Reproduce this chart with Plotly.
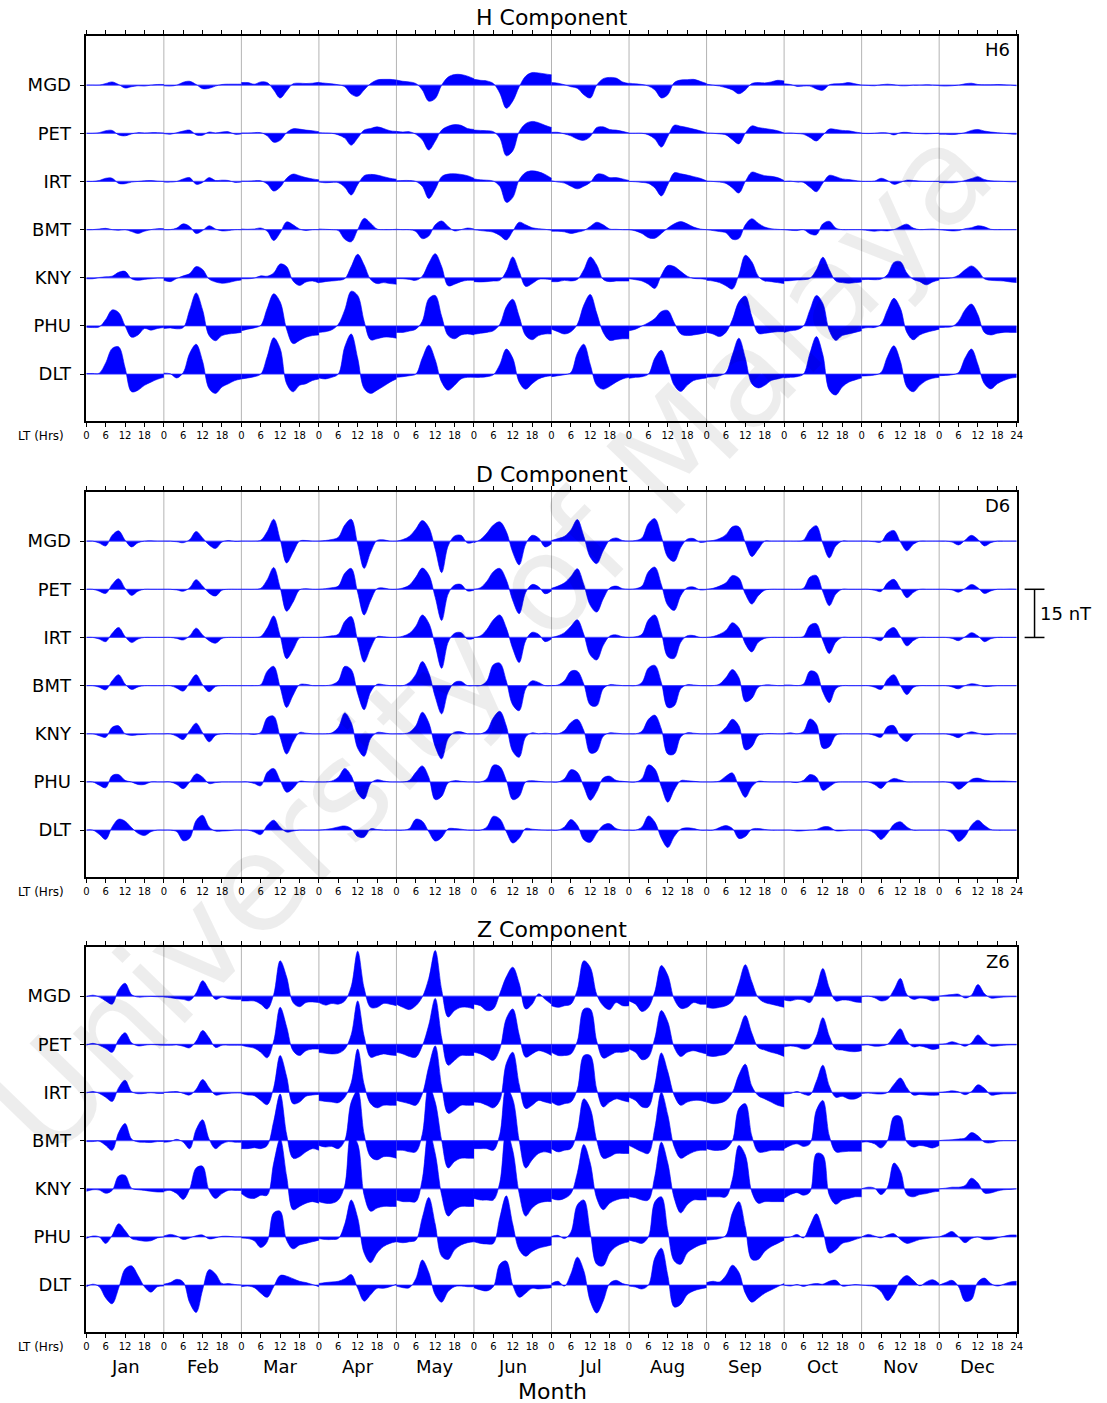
import plotly.graph_objects as go

# ---------------------------------------------------------------------------
# Monthly mean daily variation (nT) sampled every 2 h of local time
# (0, 2, ..., 24 LT), one row per month Jan..Dec, for each station.
# ---------------------------------------------------------------------------
STATIONS = ["MGD", "PET", "IRT", "BMT", "KNY", "PHU", "DLT"]
MONTHS = ["Jan", "Feb", "Mar", "Apr", "May", "Jun",
          "Jul", "Aug", "Sep", "Oct", "Nov", "Dec"]
HOURS = [0, 2, 4, 6, 8, 10, 12, 14, 16, 18, 20, 22, 24]
STATION_SPACING = 15  # nT between station baselines
SCALE_BAR = 15        # nT

# ----------------------------- H component ---------------------------------
H_MGD = [
    [0, 0, 0, 0.5, 1.0, 0.2, -0.9, -0.5, -0.2, -0.3, 0, 0.2, 0.2],
    [-0.2, -0.3, 0, 0.9, 1.2, 0.2, -1.1, -1.0, -0.3, 0.2, 0.3, 0.3, 0.3],
    [0.8, 0.8, 0.3, 1.0, 0.8, -1.5, -4.0, -1.8, 0.4, 0.6, 0.5, 0.6, 0.9],
    [0.8, 0.6, 0.4, 0.1, -0.5, -2.8, -3.5, -1.5, 0.5, 1.6, 1.8, 1.8, 1.6],
    [1.6, 1.2, 1.0, 0.5, -1.5, -5.0, -4.2, 0.0, 2.5, 3.3, 3.3, 2.8, 2.0],
    [1.8, 1.5, 1.3, 0.5, -2.5, -7.2, -5.0, -0.5, 2.8, 3.9, 3.8, 3.5, 3.2],
    [0.8, 0.6, 0.1, -0.5, -1.0, -3.0, -4.0, 0, 2.0, 2.4, 2.2, 1.0, 0.5],
    [0.6, 0.4, 0.2, -0.3, -1.5, -4.0, -3.0, 0.8, 1.6, 1.7, 1.8, 1.2, 0.5],
    [0.3, 0, -0.3, -0.8, -1.5, -2.7, -1.5, 0.5, 0.8, 0.7, 1.0, 1.5, 1.3],
    [0.4, 0.2, -0.4, -0.3, -0.3, -1.2, -1.6, 0.1, 0.4, 0.5, 0.8, 0.4, 0],
    [0, -0.1, -0.2, 0.1, 0.3, 0.1, -0.2, -0.2, 0, 0, 0.1, 0, -0.1],
    [-0.2, -0.3, -0.2, 0, 0.4, 0.6, 0.2, 0.1, 0.1, 0.2, 0.1, 0, -0.2],
]
H_PET = [
    [0, 0, 0.2, 0.8, 0.9, -0.5, -0.8, -0.2, 0.2, 0.1, 0.2, 0.2, 0.1],
    [-0.1, -0.3, 0.2, 0.7, 1.0, -0.5, -0.6, 0.4, 0.1, 0.4, 0.5, -0.3, -0.2],
    [0.1, 0.1, 0.2, 0.2, -0.8, -2.8, -2.2, 0.2, 1.4, 1.3, 1.0, 0.8, 0.5],
    [0.2, 0.1, 0, -0.5, -1.5, -3.7, -1.5, 1.0, 1.5, 2.0, 1.5, 0.8, 0.6],
    [0.6, 0.4, 0.5, -0.3, -2.0, -5.2, -2.5, 1.0, 2.2, 2.7, 2.5, 1.5, 1.2],
    [1.0, 0.9, 0.8, 0.5, -1.5, -7.0, -5.5, 0.5, 3.0, 3.7, 3.3, 2.5, 1.8],
    [0.3, 0.3, -0.2, -0.8, -1.8, -2.2, -1.0, 1.8, 2.0, 1.2, 1.0, 0.6, 0.1],
    [0, 0, 0, -0.5, -1.8, -4.3, -1.0, 2.5, 2.2, 1.8, 1.3, 0.8, 0.2],
    [0.1, 0, -0.2, -0.5, -2.0, -3.3, 0, 2.3, 1.8, 1.5, 1.2, 0.8, 0.1],
    [0, 0.1, -0.1, -0.3, -1.3, -2.4, -0.6, 1.3, 1.2, 0.9, 0.8, 0.4, 0.1],
    [0, -0.1, 0, 0.2, 0.1, -0.5, 0.2, 0.3, 0, -0.1, -0.2, -0.1, 0],
    [-0.3, -0.3, -0.4, -0.2, 0.2, 0.9, 1.2, 0.7, 0.4, 0.2, 0, -0.2, -0.3],
]
H_IRT = [
    [0, 0, 0.3, 1.0, 1.0, -0.6, -0.7, -0.2, 0, 0.2, 0.3, 0.1, 0],
    [-0.2, -0.2, 0, 0.8, 1.2, -0.9, -0.3, 1.2, 0.3, 0.4, 0.3, -0.3, -0.2],
    [0.1, 0.1, 0.2, 0.2, -0.8, -3.0, -1.8, 1.0, 2.3, 1.8, 1.2, 0.8, 0.5],
    [-0.2, -0.4, -0.3, -0.4, -1.8, -4.2, -1.0, 1.8, 2.2, 2.0, 1.5, 1.0, 0.7],
    [0.2, 0.3, 0.3, 0, -1.5, -5.3, -2.5, 1.5, 2.3, 2.4, 2.2, 1.8, 1.0],
    [0.8, 0.5, 0.4, 0.1, -1.5, -6.5, -5.0, 0.5, 2.8, 3.3, 3.0, 2.2, 1.0],
    [0.2, -0.2, -0.5, -1.5, -2.3, -1.5, -0.3, 2.2, 2.2, 1.2, 1.2, 0.8, 0.3],
    [0, -0.1, -0.3, -0.6, -2.0, -4.5, -1.0, 2.7, 2.4, 2.0, 1.5, 1.0, 0.2],
    [0.1, 0, -0.2, -0.6, -2.0, -3.6, 0, 2.9, 2.4, 1.8, 1.6, 1.2, 0.3],
    [0, 0.1, -0.2, -0.3, -1.8, -3.2, -0.5, 1.9, 1.5, 0.8, 0.6, 0.3, 0],
    [0, 0, 0.1, 1.0, 0.3, -0.9, -0.3, 0.4, 0.3, 0.1, 0, 0, 0],
    [-0.3, -0.4, -0.4, -0.2, 0.3, 0.9, 1.5, 0.6, 0.2, 0.1, 0, -0.1, -0.1],
]
H_BMT = [
    [0, 0, 0.2, 0.4, 0, -0.2, 0, -0.6, -1.2, -0.5, 0, 0.3, 0.3],
    [0, 0, 0.5, 1.8, 1.0, -1.2, -0.3, 1.2, 0.2, -0.4, -0.3, 0, 0],
    [0.2, 0.1, 0.2, 0.5, -0.5, -3.4, -1.0, 2.4, 1.5, 0.2, -0.3, 0, 0],
    [0.2, 0.1, 0, -0.3, -3.0, -3.8, 0, 3.5, 2.0, 0.2, 0, 0, 0.1],
    [0.1, 0, 0, -0.6, -2.8, -2.0, 1.5, 2.7, 1.0, -0.4, 0, 0.5, 0.2],
    [0, -0.3, -0.5, -0.8, -1.8, -3.2, -0.5, 2.3, 1.5, 0.6, 0.3, 0.1, -0.2],
    [-0.5, -0.5, -0.7, -1.2, -0.8, -0.3, 1.0, 2.3, 1.5, 0.2, 0.1, 0, 0],
    [0, -0.4, -1.2, -2.5, -2.7, -1.2, 0.5, 1.8, 2.5, 1.8, 0.8, 0.2, 0],
    [0, -0.3, -0.6, -1.0, -3.0, -2.8, 1.5, 3.4, 2.0, 0.8, 0.3, 0.1, 0],
    [0, -0.2, -0.3, 0, -1.3, -1.6, 1.8, 2.6, 0.5, 0, 0, 0, 0],
    [0, -0.3, -0.5, -0.3, -0.4, 0, 1.0, 1.7, 0.5, 0, 0.1, 0.2, 0],
    [0, -0.2, -0.4, -0.3, 0.3, 0.6, 1.2, 0.9, 0.1, 0, 0, 0, 0],
]
H_KNY = [
    [-0.3, -0.3, 0.1, 0.3, 0.5, 1.7, 2.0, -0.3, -0.8, -0.5, -0.3, -0.1, -0.1],
    [-0.8, -1.2, -0.2, 0.6, 1.3, 3.5, 2.6, -0.4, -1.3, -1.7, -1.5, -1.0, -0.7],
    [-0.3, -0.3, -0.1, 0.6, 0.5, 1.5, 4.3, 3.5, -1.0, -2.4, -1.3, -1.0, -1.6],
    [-1.5, -1.2, -1.0, -0.8, -0.3, 3.5, 7.3, 4.0, -0.5, -1.8, -1.5, -1.8, -2.0],
    [-0.3, -0.3, -0.5, -0.8, 0.5, 4.5, 7.5, 3.5, -2.5, -2.0, -1.2, -0.8, -0.8],
    [-1.2, -1.3, -1.2, -1.0, -0.8, 2.0, 6.5, 2.0, -2.7, -1.8, -0.5, -0.4, -0.6],
    [-1.2, -1.2, -0.8, -1.0, -0.5, 2.5, 6.5, 4.0, -0.5, -1.2, -1.0, -1.0, -1.0],
    [-0.3, -0.6, -1.0, -2.0, -3.3, 0.8, 3.8, 3.5, 2.0, 0.5, -0.2, -0.3, -0.5],
    [-0.8, -1.0, -1.5, -2.5, -3.5, 1.0, 7.0, 5.0, 0.5, -1.0, -1.2, -1.5, -1.8],
    [-1.0, -0.9, -0.7, -0.6, -0.2, 2.5, 6.4, 2.5, -1.0, -1.5, -1.7, -1.5, -1.3],
    [-0.6, -0.5, -0.6, -0.4, 1.0, 4.8, 5.0, 1.5, -0.5, -1.2, -2.2, -1.3, -0.7],
    [-0.3, -0.2, 0, 0.8, 2.5, 3.7, 2.3, -0.3, -0.8, -0.9, -1.0, -1.3, -1.5],
]
H_PHU = [
    [-0.4, -0.5, -0.3, 2.0, 5.0, 4.2, 0, -3.5, -2.8, -0.8, -1.3, -0.8, -0.5],
    [-0.8, -0.6, -0.9, -0.5, 5.0, 10.3, 5.0, -3.0, -4.6, -3.0, -2.5, -2.3, -2.0],
    [-1.5, -1.0, -0.6, 0.2, 5.5, 10.0, 7.5, -1.0, -5.5, -4.5, -3.5, -3.0, -2.8],
    [-2.0, -1.8, -1.2, 0.5, 5.0, 10.8, 9.5, 1.5, -4.3, -4.0, -3.5, -3.5, -3.8],
    [-2.0, -2.0, -1.6, -1.0, 1.5, 8.5, 9.5, 3.0, -3.0, -4.0, -2.8, -2.5, -2.8],
    [-2.6, -2.3, -2.0, -1.5, 0.5, 6.0, 8.3, 3.0, -3.0, -4.3, -3.0, -2.5, -2.5],
    [-1.0, -1.8, -2.5, -1.8, 0.5, 6.5, 9.8, 4.0, -2.0, -4.5, -4.2, -4.0, -4.0],
    [-1.5, -1.0, 0, 1.0, 2.3, 4.5, 4.8, 1.0, -2.5, -3.0, -2.8, -2.5, -2.0],
    [-2.0, -2.5, -3.3, -2.0, 2.0, 7.5, 9.3, 3.0, -2.3, -2.3, -2.0, -1.8, -1.8],
    [-2.0, -1.5, -1.2, 0, 5.0, 9.5, 7.0, -1.5, -4.5, -3.0, -2.5, -2.0, -1.5],
    [-0.8, -0.5, -0.5, 0.5, 5.0, 8.6, 5.5, -2.0, -4.3, -2.8, -2.0, -1.5, -1.0],
    [-0.5, -0.4, -0.2, 1.5, 5.0, 6.8, 3.5, -2.0, -2.8, -2.3, -2.0, -2.0, -2.0],
]
H_DLT = [
    [0.2, 0.2, 0.3, 3.5, 8.0, 8.5, 2.0, -5.5, -5.0, -3.5, -2.5, -1.6, -1.0],
    [0.3, 0.1, -1.2, 0.5, 6.5, 9.3, 4.0, -4.5, -6.0, -4.0, -3.0, -2.0, -1.5],
    [-1.5, -1.2, -0.8, 0, 5.5, 11.3, 8.0, -3.0, -5.5, -3.5, -3.0, -2.0, -1.5],
    [-1.2, -1.5, -1.0, 0, 8.5, 12.5, 5.0, -4.5, -6.0, -5.0, -3.8, -2.5, -1.5],
    [-1.0, -0.8, -0.5, 0, 5.0, 9.0, 4.5, -2.5, -5.0, -3.5, -1.5, -1.0, -1.0],
    [-1.0, -1.0, -0.8, -0.2, 3.0, 7.8, 5.0, -2.5, -4.7, -3.0, -1.5, -0.8, -0.5],
    [-0.8, -0.5, -0.2, 0.5, 6.5, 9.3, 3.0, -3.5, -4.7, -3.8, -2.5, -1.5, -1.0],
    [-1.3, -1.0, -0.8, 0, 5.0, 7.4, 2.5, -3.5, -5.4, -3.5, -2.0, -1.5, -1.2],
    [-1.0, -0.8, -0.5, 0.5, 6.0, 11.2, 5.0, -3.0, -4.3, -3.5, -2.0, -1.5, -1.0],
    [-1.2, -1.0, -0.8, 0, 6.5, 11.7, 6.0, -5.0, -6.5, -4.0, -2.5, -1.8, -1.2],
    [-0.6, -0.5, -0.3, 0.5, 5.5, 8.8, 4.0, -4.0, -5.5, -3.5, -2.0, -1.3, -1.0],
    [-0.5, -0.4, -0.2, 0.5, 5.0, 7.8, 3.0, -3.0, -4.6, -3.0, -2.0, -1.3, -1.0],
]

# ----------------------------- D component ---------------------------------
D_MGD = [
    [0, 0, -0.6, -1.5, 1.8, 3.2, 0.3, -1.8, -0.5, 0, 0.1, 0, 0],
    [0, 0, -0.2, -0.5, 0.5, 3.0, 1.0, -1.2, -2.3, -0.3, 0.2, -0.1, 0],
    [0, 0, 0, 0.3, 3.0, 6.8, 0.5, -6.8, -3.5, 0, 0.2, 0, 0],
    [0, 0.2, 0.5, 1.2, 5.0, 6.8, -1.0, -8.5, -3.5, 0.2, 0.4, 0, 0],
    [0, 0.5, 1.5, 3.8, 6.4, 4.3, -2.5, -9.8, -1.5, 1.6, 1.8, -0.6, -0.3],
    [-0.5, 0.5, 2.5, 5.0, 6.0, 3.0, -3.5, -7.4, -1.0, 1.8, 1.0, -1.8, -0.8],
    [0.2, 0.8, 1.5, 3.5, 6.7, 1.5, -5.0, -7.0, -3.0, 0.3, 1.0, 0.2, 0],
    [0, 0.2, 1.0, 5.5, 7.0, 1.5, -5.0, -6.3, -2.0, 0.6, 0.8, -0.4, -0.2],
    [0, 0.2, 0.8, 2.0, 4.5, 4.5, -0.5, -4.8, -2.5, 0, 0, 0, 0],
    [0, 0, 0, 0.3, 3.5, 4.8, -0.8, -5.2, -1.5, 0, 0, 0, 0],
    [0, 0, -0.2, -0.3, 2.5, 3.3, -0.3, -3.0, -1.0, 0, 0, 0, 0],
    [0, 0, -0.3, -1.2, 0.3, 1.8, 0.5, -1.5, -0.5, 0, 0, 0, 0],
]
D_PET = [
    [0, 0, -0.6, -1.3, 1.5, 3.3, 0.3, -1.9, -0.6, 0, 0, 0, 0],
    [0, 0, -0.2, -0.6, 0.5, 3.0, 1.0, -1.2, -2.1, -0.3, 0, 0, 0],
    [0, 0, 0, 0.3, 3.0, 6.8, 0.5, -6.8, -4.0, -0.2, 0.2, 0, 0],
    [0, 0.2, 0.5, 1.0, 5.0, 6.5, -1.0, -8.0, -3.5, 0.2, 0.4, 0, 0],
    [0, 0.4, 1.3, 3.8, 6.6, 4.5, -2.5, -9.7, -1.5, 1.3, 1.5, -0.5, -0.3],
    [0, 0.5, 2.5, 5.5, 6.5, 3.0, -3.5, -7.6, -1.0, 1.5, 0.8, -1.4, -0.5],
    [0.3, 1.0, 2.0, 4.0, 6.4, 1.5, -5.0, -7.1, -3.0, 0.4, 1.0, 0.2, 0],
    [0, 0.2, 1.0, 5.5, 6.9, 1.5, -5.0, -6.6, -2.0, 0.5, 0.7, -0.2, -0.1],
    [0, 0.3, 1.0, 2.0, 4.3, 3.5, -1.5, -4.6, -2.0, -0.3, 0, 0, 0],
    [0, 0, 0, 0.3, 3.8, 4.3, -0.8, -5.1, -1.5, 0, 0, 0, 0],
    [0, 0, -0.3, -0.7, 2.0, 3.1, 0.3, -2.6, -1.0, 0, 0, 0, 0],
    [0, 0, -0.2, -0.9, 0.2, 1.5, 0.5, -1.3, -0.5, 0, 0, 0.1, 0],
]
D_IRT = [
    [0, 0, -0.5, -1.3, 1.3, 3.1, 0.3, -1.6, -0.5, 0, 0, 0, 0],
    [0, 0, -0.3, -0.8, 0.5, 2.9, 0.8, -1.0, -1.8, -0.3, 0, 0, 0],
    [0, 0, 0, 0.3, 3.0, 6.7, 0.5, -6.6, -3.8, -0.2, 0, 0, 0],
    [0, 0.2, 0.5, 1.0, 5.0, 6.5, -1.0, -7.7, -3.3, 0.2, 0.2, 0, 0],
    [0, 0.4, 1.3, 3.5, 7.0, 4.5, -2.5, -9.6, -1.5, 1.3, 1.5, -0.5, -0.3],
    [0, 0.5, 2.5, 5.5, 7.0, 3.0, -3.5, -7.8, -1.0, 1.6, 1.0, -1.3, -0.5],
    [0, 0.5, 1.5, 3.5, 5.5, 1.0, -5.5, -7.0, -2.5, 0.4, 0.8, 0.2, 0],
    [0, 0.2, 1.0, 5.5, 7.0, 1.5, -6.0, -6.5, -1.5, 0.5, 0.6, 0, 0],
    [0, 0.3, 1.0, 2.2, 4.6, 3.0, -2.0, -4.5, -1.5, -0.3, 0, 0, 0],
    [0, 0, 0, 0.3, 3.8, 4.3, -1.0, -5.0, -1.5, 0, 0, 0, 0],
    [0, 0, -0.4, -1.0, 2.0, 3.1, 0.3, -2.6, -1.0, 0, 0, 0, 0],
    [0, 0, -0.3, -1.0, 0.2, 1.5, 0.5, -1.3, -0.4, 0, 0, 0, 0],
]
D_BMT = [
    [0, 0, -0.5, -1.3, 1.5, 3.4, 0.5, -1.2, -0.4, 0, 0, 0, 0],
    [0, 0, -0.8, -1.7, 1.0, 3.4, 0.3, -1.9, -0.3, 0, 0, 0, 0],
    [0, 0, 0, 0.3, 4.5, 6.0, -0.5, -6.8, -3.0, 0.3, 0.4, 0, 0],
    [0, 0, 0.3, 1.5, 6.0, 5.0, -2.5, -7.5, -2.0, 0.4, 0.3, 0, 0],
    [0, 0, 1.0, 3.5, 7.5, 4.0, -3.5, -8.8, -2.0, 1.0, 1.3, 0, 0],
    [0, 0, 1.5, 6.5, 7.0, 1.5, -6.0, -7.8, -1.0, 1.5, 1.0, 0, 0],
    [0, 0.2, 1.5, 4.5, 4.5, 0.5, -6.0, -6.3, -1.0, 0.3, 0.2, 0, 0],
    [0, 0, 1.0, 5.5, 6.3, 1.0, -6.8, -6.3, -1.0, 0.3, 0.2, 0, 0],
    [0, 0, 0.5, 2.5, 5.0, 2.5, -5.0, -4.0, -0.5, 0.2, 0.2, 0, 0],
    [0.2, 0.2, 0, 0.5, 4.5, 4.0, -2.0, -5.3, -1.0, 0, 0, 0, 0],
    [0, 0, -0.5, -1.2, 2.0, 3.4, 0, -2.8, -0.6, 0, 0, 0, 0],
    [0, 0, -0.4, -1.0, 0, 0.6, 0.3, -0.3, -0.2, 0, 0, 0, 0],
]
D_KNY = [
    [0, 0, -0.6, -1.1, 2.0, 2.5, 0, -0.5, -0.3, -0.2, 0, 0, 0],
    [0, 0, -0.8, -1.8, 1.0, 3.3, 0.3, -2.5, -0.5, 0, 0.1, 0, 0],
    [0, 0, -0.2, 0.5, 5.0, 5.5, -1.0, -6.3, -2.5, 0.4, 0.2, 0, 0],
    [0, 0, 0.3, 2.0, 6.5, 3.5, -4.5, -7.0, -1.5, 0.4, 0.3, 0, 0],
    [0, 0, 0.5, 2.5, 6.7, 3.5, -4.0, -7.8, -1.5, 0.5, 0.6, 0, 0],
    [0, 0, 1.0, 5.0, 7.0, 2.5, -5.5, -7.3, -1.0, 0.3, 0, 0.2, 0],
    [0, 0, 1.0, 3.5, 4.5, 1.0, -6.0, -5.5, -0.8, 0.3, 0.2, 0, 0],
    [0, 0, 0.8, 4.5, 5.8, 1.5, -6.3, -6.3, -1.0, 0.3, 0.2, 0, 0],
    [0, 0, 0.3, 2.0, 4.5, 2.5, -5.0, -4.0, -0.5, 0, 0.1, 0, 0],
    [0, 0.3, 0, 0.7, 4.6, 3.0, -4.5, -4.0, -0.5, 0, 0, 0, 0],
    [0, 0, -0.5, -1.1, 2.2, 2.5, -1.0, -2.4, -0.3, 0, 0, 0, 0],
    [0, 0, -0.5, -1.2, 0, 0.6, 0.2, -0.3, -0.2, 0, 0, 0, 0],
]
D_PHU = [
    [0, 0, -1.0, -1.8, 2.0, 2.3, 0.5, 0, -0.8, -0.8, 0, 0, 0],
    [0, 0, -0.8, -2.1, 0, 2.5, 1.5, -0.5, -0.2, 0, 0, 0, 0],
    [0, 0, -0.5, -1.2, 3.0, 4.2, 0.5, -3.2, -2.0, 0.2, 0.1, 0, 0],
    [0, 0, 0.3, 1.5, 4.2, 2.0, -3.5, -5.3, -0.5, 0.7, 0.3, 0, 0],
    [0, 0, 0.5, 3.0, 5.0, 1.5, -5.5, -4.5, -0.3, 0.4, 0.2, 0, 0],
    [0, 0, 1.0, 5.2, 4.8, 0.5, -5.5, -4.5, 0, 0.4, 0.2, 0, 0],
    [0, 0, 1.0, 3.8, 3.0, -1.5, -5.7, -3.0, 1.2, 1.8, 0.5, 0.2, 0],
    [0, 0, 1.0, 5.3, 4.0, -1.5, -6.3, -2.5, 0.4, 0.4, 0.2, 0, 0],
    [0, 0, 0.3, 1.8, 2.8, -1.5, -4.8, -1.5, 0.2, 0.1, 0, 0, 0],
    [0, 0, -0.2, 0.5, 2.3, 1.5, -2.6, -1.5, -0.2, 0, 0, 0, 0],
    [0, 0, -0.8, -2.0, 0, 1.1, 0.6, 0, 0, 0, 0, 0, 0],
    [0, 0, -0.5, -2.3, -1.0, 0.8, 1.2, 0.6, 0.3, 0.3, 0.3, 0.2, 0.1],
]
D_DLT = [
    [0, 0, -1.3, -2.9, 1.0, 3.4, 2.8, 0.8, -1.0, -1.7, -0.5, 0, 0],
    [0, 0, -0.5, -3.3, -2.5, 3.0, 4.6, 1.0, -0.3, -0.3, -0.2, 0, 0],
    [0, 0, -0.6, -1.4, 1.5, 3.1, 1.0, -0.6, -0.3, 0, 0, 0, 0],
    [0, 0.2, 0.5, 1.0, 1.3, 0.5, -2.0, -2.2, 0.4, 0.2, 0, 0, 0],
    [0, 0, 0.5, 3.4, 2.8, -0.5, -3.4, -2.3, 0.4, 0.5, 0.3, 0, 0],
    [0, 0, 1.0, 4.3, 3.5, -0.5, -4.0, -2.5, 0.5, 0.3, 0.1, 0, 0],
    [0, 0, 1.0, 3.3, 1.5, -3.0, -3.8, -1.0, 1.5, 2.0, 0.5, 0, 0],
    [0, 0, 1.0, 4.4, 2.5, -2.5, -5.4, -2.0, 0.3, 0.7, 0.5, 0, 0],
    [0, 0, 0.8, 1.4, 0.5, -2.6, -2.0, 0.3, 0.5, 0.2, 0, 0, 0],
    [0, 0, -0.3, -0.2, 0, 0.2, 1.0, 1.0, -0.2, -0.2, 0, 0, 0],
    [0, 0, -1.0, -2.9, -1.0, 1.8, 2.6, 1.0, 0, 0, 0, 0, 0],
    [0, 0, -1.0, -3.5, -2.0, 1.5, 3.1, 1.5, 0.2, 0, 0, 0, 0],
]

# ----------------------------- Z component ---------------------------------
Z_MGD = [
    [-0.2, 0.3, -0.3, -1.5, -2.5, 2.0, 4.0, 0.5, -0.3, -0.2, -0.1, -0.2, -0.2],
    [-0.3, -0.5, -0.8, -1.0, -1.4, 1.0, 4.8, 2.0, -1.0, -0.3, -0.8, -1.0, -1.0],
    [-1.5, -1.5, -1.5, -2.5, -4.0, 0.5, 11.0, 6.0, -2.0, -3.3, -2.0, -1.8, -2.0],
    [-2.0, -2.8, -2.3, -2.5, -1.5, 3.0, 14.0, 2.5, -3.5, -3.5, -2.3, -2.5, -3.0],
    [-2.5, -3.5, -4.2, -3.0, -0.3, 5.5, 14.2, 2.0, -6.5, -4.5, -3.5, -3.5, -4.0],
    [-2.5, -3.0, -4.5, -4.0, 0.8, 6.0, 9.0, 4.0, -4.0, -2.5, 0.7, -1.0, -2.5],
    [-3.0, -3.5, -3.0, -2.5, 2.0, 11.0, 9.0, 0.5, -3.0, -4.2, -2.0, -3.0, -3.0],
    [-1.5, -2.5, -4.8, -3.5, 1.5, 9.5, 6.5, -1.0, -3.8, -3.5, -2.0, -2.5, -2.5],
    [-3.5, -3.8, -3.5, -3.0, -1.5, 4.0, 9.8, 4.5, -0.5, -2.0, -2.5, -3.0, -3.5],
    [-1.2, -1.5, -1.0, -1.2, -2.0, 2.5, 8.6, 2.5, -1.5, -1.2, -1.3, -1.8, -2.0],
    [-0.2, 0, -0.5, -1.5, -1.0, 2.0, 5.5, 0.5, -1.0, -0.6, -0.8, -1.5, -1.2],
    [0, 0.3, 0.5, 0.6, -0.6, 0.3, 3.6, 0.8, -0.6, -0.5, -0.3, -0.2, -0.2],
]
Z_PET = [
    [-0.3, 0.3, -0.3, -1.3, -2.5, 1.5, 3.6, 0.5, -0.5, -0.3, -0.1, -0.2, -0.3],
    [-0.3, -0.3, -0.2, -0.6, -1.1, 1.0, 4.3, 2.0, -1.0, -0.3, -0.3, -0.3, -0.3],
    [-0.3, -0.8, -1.2, -2.5, -4.2, 1.0, 11.5, 5.5, -2.0, -3.5, -2.0, -1.5, -1.5],
    [-2.5, -2.8, -3.0, -2.8, -1.5, 3.0, 13.5, 2.5, -4.0, -3.5, -3.0, -3.3, -3.5],
    [-2.5, -3.0, -3.8, -4.0, -0.5, 6.0, 14.3, 2.0, -6.5, -5.0, -3.5, -3.5, -3.5],
    [-2.5, -3.0, -4.0, -5.0, -1.5, 8.0, 11.0, 3.0, -4.0, -3.0, -2.0, -2.5, -3.5],
    [-2.5, -3.5, -3.5, -3.0, 1.0, 11.0, 11.0, 1.0, -4.3, -3.5, -2.5, -2.5, -2.0],
    [-1.5, -2.5, -4.8, -4.0, 2.0, 10.5, 7.0, -1.0, -3.8, -2.5, -2.0, -2.5, -3.0],
    [-3.5, -3.8, -3.5, -3.0, -1.0, 4.0, 9.0, 3.5, -1.0, -1.8, -2.5, -3.0, -3.8],
    [-0.8, -0.5, -0.8, -1.5, -1.0, 2.5, 8.3, 2.5, -1.5, -1.8, -2.2, -2.3, -2.0],
    [-0.3, -0.2, -0.6, -0.5, 0, 2.5, 4.8, 1.0, -0.8, -0.5, -1.0, -1.6, -1.2],
    [0, 0.2, 0.8, 0.2, -0.6, 0.5, 2.9, 1.0, -0.5, -0.5, -0.3, -0.2, -0.2],
]
Z_IRT = [
    [-0.2, 0.3, -0.3, -1.5, -2.8, 1.5, 3.8, 0.3, -0.4, -0.3, -0.1, -0.3, -0.3],
    [0, 0.2, 0.3, -0.3, -0.8, 1.0, 4.0, 1.5, -0.8, -0.5, -0.3, -0.2, -0.2],
    [-0.3, -0.8, -1.0, -2.5, -3.8, 1.5, 11.5, 5.0, -3.5, -3.0, -1.2, -0.8, -0.6],
    [-2.5, -2.8, -3.0, -3.2, -1.5, 3.0, 13.5, 2.5, -3.5, -4.8, -4.0, -4.0, -4.0],
    [-2.5, -3.0, -3.5, -4.0, -0.5, 8.0, 14.5, 2.0, -6.5, -5.5, -4.0, -4.0, -4.0],
    [-3.0, -3.2, -4.0, -4.8, -2.5, 9.0, 12.5, 2.5, -5.0, -4.0, -2.5, -3.0, -3.5],
    [-3.0, -4.0, -3.5, -3.0, 1.0, 11.5, 11.5, 1.0, -4.5, -3.0, -2.0, -2.5, -3.0],
    [-1.5, -2.5, -4.5, -4.5, 2.5, 12.3, 6.5, -1.0, -4.0, -3.0, -2.5, -2.5, -3.0],
    [-3.0, -3.5, -3.3, -2.5, 0, 5.5, 8.8, 2.0, -1.0, -2.0, -3.0, -4.0, -4.5],
    [-0.5, -0.3, 0.3, -0.5, -0.8, 3.5, 8.5, 2.0, -1.5, -1.2, -2.0, -2.0, -1.0],
    [-0.3, -0.2, -0.4, -0.5, 0, 2.5, 4.5, 1.5, -0.8, -0.6, -0.8, -0.9, -0.8],
    [0, 0.2, 0.5, 0.2, -0.7, 0.3, 2.4, 1.3, -0.8, -0.6, -0.4, -0.4, -0.3],
]
Z_BMT = [
    [-0.3, -0.3, -0.2, -1.5, -3.0, 2.5, 5.3, 0.5, -0.4, -0.5, -0.6, -0.3, -0.3],
    [-0.5, -0.3, 0.4, -0.5, -2.5, 3.5, 6.5, 0.5, -2.5, -1.0, -0.3, -0.5, -0.5],
    [-2.5, -2.5, -2.2, -2.5, -1.5, 6.0, 14.5, 2.0, -5.5, -5.0, -3.5, -2.5, -3.0],
    [-1.5, -2.0, -1.8, -2.5, 0, 12.0, 15.5, 2.0, -5.0, -6.0, -5.0, -5.0, -5.5],
    [-3.0, -3.0, -3.5, -3.5, 2.0, 17.0, 12.0, 0, -8.5, -6.5, -5.5, -5.5, -5.5],
    [-2.5, -2.5, -2.5, -3.0, 2.0, 16.5, 13.0, 0, -8.5, -6.0, -4.0, -3.5, -4.0],
    [-2.5, -3.5, -3.0, -2.5, 3.0, 13.0, 10.0, 0, -5.5, -5.0, -4.0, -4.0, -4.0],
    [-1.5, -2.5, -3.5, -4.0, 4.0, 15.0, 8.0, -2.0, -5.5, -4.5, -3.5, -3.0, -3.0],
    [-2.5, -3.0, -3.0, -2.5, 0, 10.0, 11.5, 1.5, -3.5, -3.5, -3.0, -3.0, -3.0],
    [-2.5, -1.5, -1.0, -1.8, -1.0, 9.5, 12.5, 1.5, -3.5, -3.5, -3.3, -3.3, -3.3],
    [-0.5, -0.4, -1.0, -2.3, 0, 7.5, 7.5, -0.5, -2.0, -1.5, -1.8, -2.3, -1.5],
    [0, 0.2, 0.3, 0.5, 0.8, 2.5, 1.5, -0.5, -0.7, -0.2, 0, 0, 0],
]
Z_KNY = [
    [-0.8, -0.3, -0.4, -1.4, -0.5, 4.0, 4.2, 0.2, -0.3, -0.5, -0.8, -1.0, -1.0],
    [-0.8, -0.5, -1.5, -3.3, 0, 6.5, 7.0, -0.5, -3.0, -1.5, -0.5, -0.5, -0.5],
    [-1.5, -2.8, -3.0, -2.0, -2.0, 8.0, 15.5, 4.0, -6.5, -5.5, -4.5, -4.0, -4.5],
    [-4.0, -4.5, -4.5, -3.5, 1.0, 17.0, 14.0, -2.0, -7.0, -6.0, -5.5, -5.5, -5.5],
    [-3.5, -4.0, -4.0, -4.0, 3.0, 18.0, 11.0, -2.0, -8.5, -6.5, -5.5, -5.5, -5.5],
    [-3.0, -3.5, -3.5, -3.5, 2.0, 18.0, 12.0, -1.5, -8.5, -6.0, -4.5, -4.0, -4.0],
    [-3.0, -3.5, -3.0, -1.5, 5.0, 13.8, 8.0, -3.0, -6.5, -4.5, -3.5, -3.0, -3.0],
    [-2.5, -2.8, -3.5, -3.5, 4.0, 14.5, 8.0, -3.0, -7.5, -5.0, -3.5, -3.5, -3.5],
    [-2.5, -2.5, -2.5, -2.5, 3.0, 13.5, 10.5, -1.0, -4.5, -4.0, -4.0, -4.0, -4.0],
    [-3.0, -1.8, -1.2, -2.0, -1.0, 11.0, 10.5, -2.0, -4.8, -3.5, -3.0, -2.5, -2.5],
    [0, 0.5, 0.2, -1.8, 0.5, 8.0, 5.5, -1.8, -2.5, -1.8, -1.5, -1.0, -0.8],
    [0, 0.2, 0.5, 0.5, 1.0, 3.3, 1.8, -1.3, -1.3, -0.7, -0.3, -0.2, 0],
]
Z_PHU = [
    [-0.5, 0.3, 0, -2.0, 0.5, 4.1, 2.0, -0.5, -1.0, -1.3, -1.2, -0.3, 0],
    [0.3, 0.8, 0.3, -0.8, -0.3, 0.4, 0.6, -0.6, -0.3, 0.2, 0.2, 0, 0],
    [-0.3, -0.5, -1.2, -3.3, -1.5, 7.5, 8.0, -1.0, -3.7, -2.5, -2.0, -1.5, -1.0],
    [-0.5, -0.8, -0.8, -0.5, 4.0, 11.5, 6.0, -5.0, -8.0, -5.0, -3.0, -2.0, -1.5],
    [-1.5, -1.8, -1.5, -1.0, 6.0, 12.3, 4.0, -6.0, -7.0, -4.0, -2.5, -1.8, -1.5],
    [-1.5, -2.0, -2.2, -2.0, 6.0, 12.8, 4.0, -4.0, -6.0, -4.5, -3.5, -3.0, -2.5],
    [0.2, 0.5, -0.5, 1.5, 10.0, 11.5, 1.5, -8.5, -9.0, -5.0, -3.0, -2.0, -1.5],
    [-1.0, -1.5, -2.0, 0, 11.0, 12.5, 2.0, -7.5, -8.5, -5.0, -3.5, -2.5, -2.0],
    [-1.0, -0.8, -0.5, 0.5, 7.5, 11.0, 3.0, -7.0, -7.0, -4.5, -3.0, -2.0, -1.0],
    [-0.3, 0, 0.8, -0.3, 3.5, 7.2, 2.0, -5.0, -4.0, -2.0, -1.5, -0.8, -0.2],
    [0, 0.8, 0.3, -0.3, 0.6, 1.0, -0.8, -2.0, -1.5, -0.8, -0.5, -0.2, 0],
    [0, 0.8, 1.7, 0, -1.8, -0.5, 0, -0.8, -0.8, -0.3, 0.2, 0.6, 0.6],
]
Z_DLT = [
    [-0.5, 0.3, -0.5, -4.0, -5.8, -1.0, 5.0, 6.0, 3.0, -0.5, -2.2, -0.5, -0.3],
    [0.3, 0.8, 1.8, 1.0, -5.5, -8.5, -1.5, 4.8, 3.5, 0.5, 0.5, 0.2, 0],
    [-0.5, -0.3, -0.8, -2.5, -3.8, -0.5, 3.0, 2.8, 2.0, 1.2, 0.8, 0.2, -0.5],
    [0.5, 0.8, 1.0, 1.2, 2.0, 3.3, -1.0, -5.0, -3.0, -1.0, -1.0, -0.5, 0.3],
    [-0.3, -0.8, -0.8, 2.0, 7.8, 4.0, -3.0, -5.3, -2.0, -0.5, -0.3, -0.5, -0.5],
    [-0.8, -1.5, -1.8, -0.5, 6.5, 7.5, 0, -3.8, -2.5, -1.0, -1.2, -1.0, -0.8],
    [0.5, 1.2, -0.3, 3.5, 8.7, 4.5, -5.0, -8.7, -5.0, 0.5, 1.5, 0.5, 0],
    [-0.3, -0.6, -1.2, 0, 8.5, 11.5, 3.0, -6.8, -6.0, -3.0, -1.8, -1.2, -0.8],
    [0.8, 1.2, 1.0, 3.0, 6.2, 4.0, -2.5, -5.3, -4.0, -2.5, -1.5, -0.5, 0.5],
    [0, -0.3, 0.2, -0.4, 0.2, 0.5, 0.3, 1.2, 1.5, -0.3, -0.1, 0.2, 0],
    [0, -0.2, -0.5, -2.0, -4.8, -2.5, 1.5, 3.0, 1.5, -0.2, 1.0, 1.7, 0.5],
    [0, 0.8, 1.5, -0.5, -5.0, -4.5, 1.0, 2.2, 0.5, -0.3, 0.3, 1.0, 1.2],
]

COMPONENTS = [
    ("H Component", "H6", [H_MGD, H_PET, H_IRT, H_BMT, H_KNY, H_PHU, H_DLT]),
    ("D Component", "D6", [D_MGD, D_PET, D_IRT, D_BMT, D_KNY, D_PHU, D_DLT]),
    ("Z Component", "Z6", [Z_MGD, Z_PET, Z_IRT, Z_BMT, Z_KNY, Z_PHU, Z_DLT]),
]

# ---------------------------------------------------------------------------
W, H = 1107, 1403
FONT = "DejaVu Sans"
FILL = "#0000ff"
BASE = "rgba(40,40,255,0.65)"
PLOT_LEFT, PLOT_RIGHT = 84, 1022
PANELS = [(36, 421), (492, 877), (947, 1332)]  # top, bottom in pixels
Y_RANGE = [-104.6, 15.3]


def fx(px):
    return px / W


def fy(px):
    return 1 - px / H


def label(text, x, y, size, xref="paper", yref="paper", xanchor="center", **kw):
    return dict(text=text, xref=xref, yref=yref, x=x, y=y, showarrow=False,
                xanchor=xanchor, yanchor="middle",
                font=dict(family=FONT, size=size, color=kw.pop("color", "black")),
                **kw)


n_days = 24 * len(MONTHS)
hour_ticks = list(range(0, n_days + 1, 6))
hour_text = [str(t % 24) if t < n_days else "24" for t in hour_ticks]
offsets = [-STATION_SPACING * i for i in range(len(STATIONS))]

fig = go.Figure()
shapes = []
annotations = []

for p, (title, tag, series) in enumerate(COMPONENTS):
    sfx = "" if p == 0 else str(p + 1)
    xa, ya = "x" + sfx, "y" + sfx
    top, bottom = PANELS[p]

    for s, data in enumerate(series):
        off = offsets[s]
        for m, vals in enumerate(data):
            x0 = 24 * m
            # zero line of this month; the curve below fills against it
            fig.add_trace(go.Scatter(
                x=[x0, x0 + 24], y=[off, off], mode="lines",
                line=dict(color=BASE, width=1.2),
                xaxis=xa, yaxis=ya, hoverinfo="skip", showlegend=False))
            fig.add_trace(go.Scatter(
                x=[x0 + h for h in HOURS], y=[off + v for v in vals],
                mode="lines", fill="tonexty", fillcolor=FILL,
                line=dict(color=FILL, width=0.6, shape="spline", smoothing=1.0),
                xaxis=xa, yaxis=ya, hoverinfo="skip", showlegend=False))

    fig.layout["xaxis" + sfx] = dict(
        domain=[fx(PLOT_LEFT), fx(PLOT_RIGHT)], range=[0, n_days], anchor=ya,
        tickmode="array", tickvals=hour_ticks, ticktext=hour_text,
        ticks="outside", ticklen=4, tickwidth=1, tickcolor="black",
        tickfont=dict(family=FONT, size=10, color="black"),
        showline=True, linecolor="black", linewidth=1.5, mirror="ticks",
        showgrid=False, zeroline=False, fixedrange=True)
    fig.layout["yaxis" + sfx] = dict(
        domain=[fy(bottom), fy(top)], range=Y_RANGE, anchor=xa,
        tickmode="array", tickvals=offsets, ticktext=STATIONS,
        ticks="outside", ticklen=5, tickwidth=1, tickcolor="black",
        ticklabelstandoff=5,
        tickfont=dict(family=FONT, size=18, color="black"),
        showline=True, linecolor="black", linewidth=1.5, mirror=True,
        showgrid=False, zeroline=False, fixedrange=True)

    # month separators
    for k in range(1, len(MONTHS)):
        shapes.append(dict(type="line", xref=xa, yref=ya + " domain",
                           x0=24 * k, x1=24 * k, y0=0, y1=1, layer="below",
                           line=dict(color="#b4b4b4", width=1)))

    annotations.append(label(title, fx(554), fy(top - 18), 22))
    annotations.append(label(tag, fx(1017), fy(top + 14), 18, xanchor="right"))
    annotations.append(label("LT (Hrs)", fx(38), fy(bottom + 15), 12))

# month names under the bottom panel
for m, name in enumerate(MONTHS):
    annotations.append(label(name, 24 * m + 12, fy(1366), 18, xref="x3"))
annotations.append(label("Month", fx(554), fy(1391), 22))

# amplitude scale bar next to the D panel (PET -> IRT baselines)
bar_x = fx(1040)
bar_lo, bar_hi = offsets[1] - SCALE_BAR, offsets[1]
shapes.append(dict(type="line", xref="paper", yref="y2", x0=bar_x, x1=bar_x,
                   y0=bar_lo, y1=bar_hi, line=dict(color="black", width=1.5)))
for yv in (bar_lo, bar_hi):
    shapes.append(dict(type="line", xref="paper", yref="y2",
                       x0=fx(1030), x1=fx(1050), y0=yv, y1=yv,
                       line=dict(color="black", width=1.5)))
annotations.append(label(f"{SCALE_BAR} nT", fx(1043), (bar_lo + bar_hi) / 2, 18,
                         yref="y2", xanchor="left"))

# watermark
annotations.append(label("University of Malaya", fx(492), fy(640), 134,
                         textangle=-46, color="rgba(0,0,0,0.07)"))

fig.update_layout(
    width=W, height=H, margin=dict(l=0, r=0, t=0, b=0),
    paper_bgcolor="white", plot_bgcolor="white",
    font=dict(family=FONT, color="black"),
    showlegend=False, shapes=shapes, annotations=annotations,
)

fig.write_html("out.html")
